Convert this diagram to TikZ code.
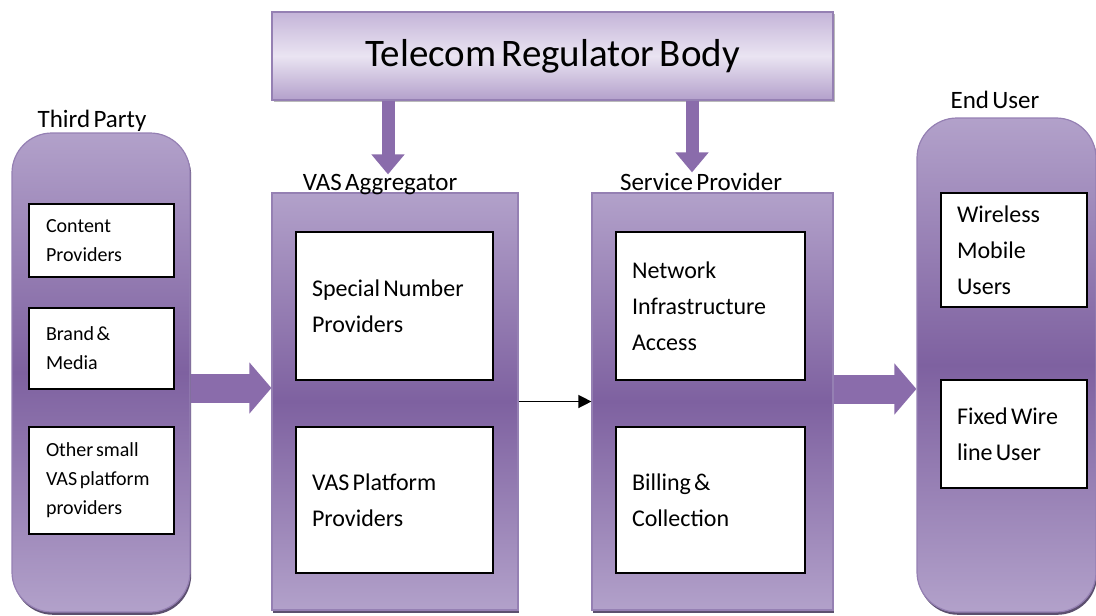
\documentclass[tikz,border=0pt]{standalone}
\usepackage{fontspec}
\setmainfont{Carlito}[WordSpace=0.6]
\usetikzlibrary{arrows.meta,positioning,shadows,calc}

\definecolor{boxlight}{HTML}{B2A1CA}
\definecolor{boxdark}{HTML}{7E61A0}
\definecolor{boxedge}{HTML}{9580B3}
\definecolor{headtop}{HTML}{C4B4D8}
\definecolor{headmid}{HTML}{EAE4F2}
\definecolor{headbot}{HTML}{B3A0CB}
\definecolor{arrowfill}{HTML}{8A6CAB}
\definecolor{shadowc}{HTML}{3F3056}

\begin{document}
\begin{tikzpicture}[x=0.5pt,y=-0.5pt]
\tikzset{
  groupbox/.style={draw=boxedge,line width=0.6pt,top color=boxlight,bottom color=boxlight,middle color=boxdark,
    drop shadow={shadow xshift=0.6pt,shadow yshift=-1.4pt,fill=shadowc,opacity=0.85}},
  roundgroup/.style={groupbox,rounded corners=20pt},
  headbox/.style={draw=boxedge,line width=0.6pt,top color=headtop,bottom color=headbot,middle color=headmid,
    drop shadow={shadow xshift=0.8pt,shadow yshift=-1.2pt,fill=black!45,opacity=0.6},
    minimum width=280.5pt,minimum height=44pt,font=\fontsize{19.5}{23}\selectfont},
  grouplabel/.style={anchor=base,inner sep=0pt,font=\fontsize{12.5}{15}\selectfont},
  item/.style={draw=black,fill=white,line width=0.7pt,align=flush left,inner xsep=8pt,inner ysep=2pt,
    font=\fontsize{12}{18}\selectfont},
  smallitem/.style={item,inner xsep=8.5pt,text width=55.5pt,font=\fontsize{10}{14.5}\selectfont},
  fatright/.style={draw=arrowfill,line width=14.5pt,-{Triangle[length=11pt,width=25pt]}},
  fatdown/.style={draw=arrowfill,line width=6.5pt,-{Triangle[length=10pt,width=16pt]}},
  thin/.style={draw=black,line width=0.7pt,-{Triangle[length=6.5pt,width=6.5pt]}}
}
\useasboundingbox (0,0) rectangle (1096,615);

% regulator on top
\node[headbox] (reg) at (552.5,56) {Telecom Regulator Body};

% the four columns
\node[roundgroup,minimum width=89pt,minimum height=239.5pt] (tp) at (101,372.5) {};
\node[groupbox,minimum width=123pt,minimum height=208.5pt] (vas) at (395,401.5) {};
\node[groupbox,minimum width=120.5pt,minimum height=208.5pt] (sp) at (712.5,401.5) {};
\node[roundgroup,minimum width=89.5pt,minimum height=247pt] (eu) at (1006.5,365) {};

\node[grouplabel] (tplbl) at (92,127) {Third Party};
\node[grouplabel] (vaslbl) at (380,190) {VAS Aggregator};
\node[grouplabel] (splbl) at (701,190) {Service Provider};
\node[grouplabel] (eulbl) at (995,108) {End User};

% third party
\node[smallitem,minimum height=36.5pt] (cp) at (101.5,240.5) {Content\\Providers};
\node[smallitem,minimum height=40.5pt] (bm) at (101.5,348.5) {Brand \&\\Media};
\node[smallitem,minimum height=53.5pt] (os) at (101.5,480.5) {Other small\\VAS platform\\providers};

% aggregator
\node[item,text width=82.5pt,minimum height=74pt] (sn) at (394.5,306) {Special Number\\Providers};
\node[item,text width=82.5pt,minimum height=73pt] (vp) at (394.5,500) {VAS Platform\\Providers};

% service provider
\node[item,text width=78.5pt,minimum height=74pt] (ni) at (710.5,306) {Network\\Infrastructure\\Access};
\node[item,text width=78.5pt,minimum height=73pt] (bc) at (710.5,500) {Billing \&\\Collection};

% end user
\node[item,text width=57pt,minimum height=57pt] (wm) at (1014,250) {Wireless\\Mobile\\Users};
\node[item,text width=57pt,minimum height=54pt] (fw) at (1014,434) {Fixed Wire\\line User};

% arrows
\path ($(vas.north)+(-7,0)$) coordinate (vasdrop);
\path ($(sp.north)+(-20.5,0)$) coordinate (spdrop);
\draw[fatdown,shorten >=9pt] (reg.south -| vasdrop) -- (vasdrop);
\draw[fatdown,shorten >=10pt] (reg.south -| spdrop) -- (spdrop);
\draw[fatright] ([yshift=-7.75pt]tp.east) -- ([yshift=6.75pt]vas.west);
\draw[fatright] ([yshift=6.25pt]sp.east) -- ([yshift=-12pt]eu.west);
\draw[thin] (vas.east) -- (sp.west);
\end{tikzpicture}
\end{document}
